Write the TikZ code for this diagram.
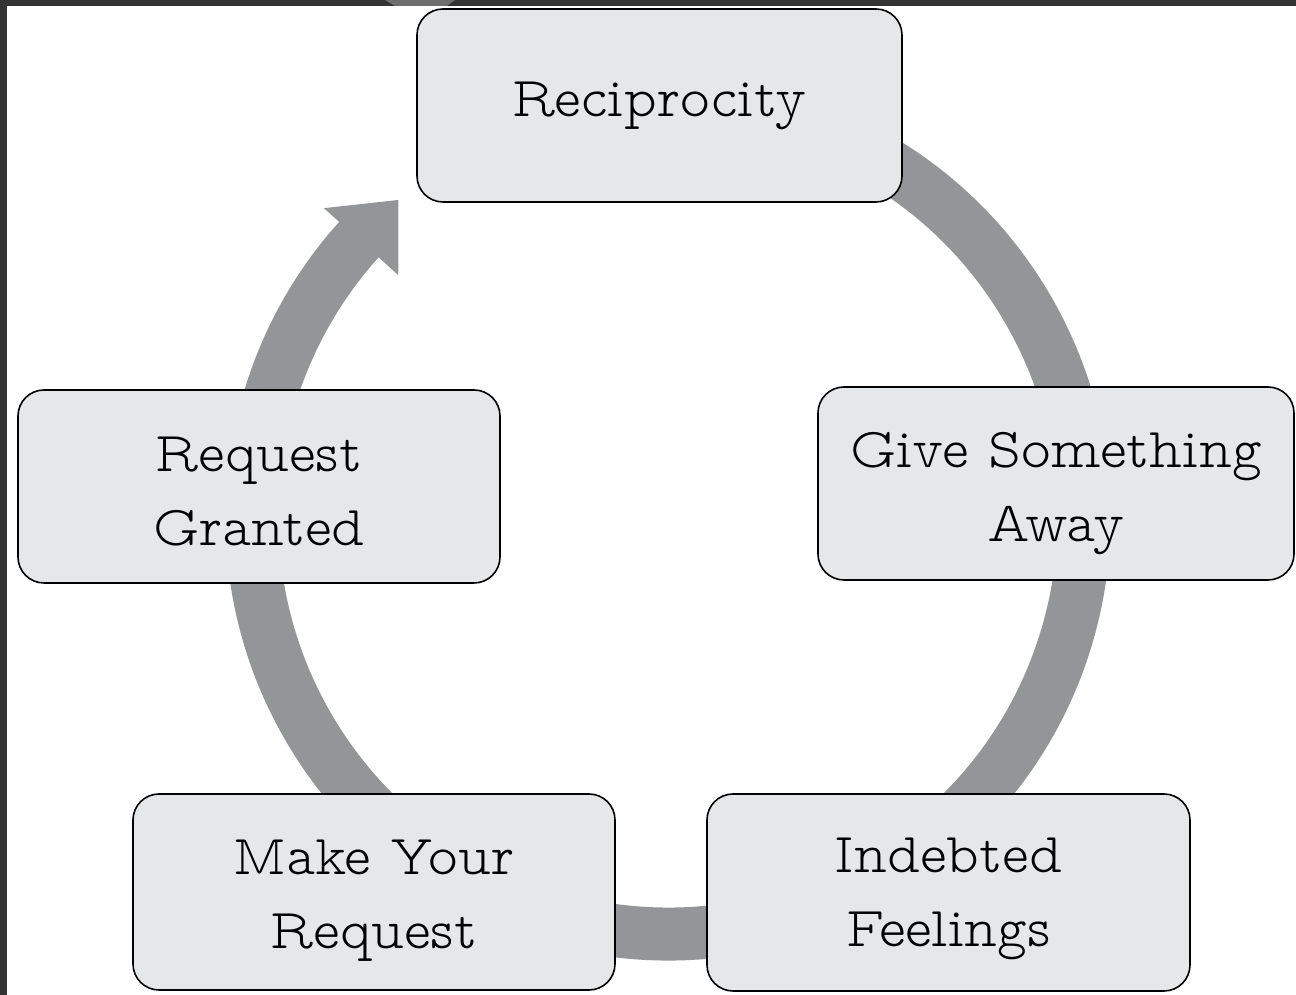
\documentclass[tikz,border=0pt]{standalone}
\usepackage{fontspec}
\usetikzlibrary{calc}
\newfontfamily\boxfont{lmmonoproplt10-regular.otf}
\definecolor{ringgray}{HTML}{939598}
\definecolor{boxgray}{HTML}{E6E7E8}
\definecolor{framedark}{HTML}{333333}
\definecolor{framestreak}{HTML}{6E6E6E}
\begin{document}
\begin{tikzpicture}[x=1pt,y=1pt,
  stagebox/.style={draw=black, line width=1.6pt, fill=boxgray, rounded corners=26pt,
    align=center, font=\boxfont\fontsize{56.5}{74}\selectfont, inner sep=0pt},
  ring/.style={draw=ringgray, line width=53pt}]
\useasboundingbox (0,0) rectangle (1296,995);
\fill[framedark] (0,0) rectangle (1296,995);
\fill[framestreak] (385,995) -- (455,995) -- (447,989) -- (395,989) -- cycle;
\fill[white] (7,0) rectangle (1296,989);
\coordinate (c) at (668,477);
% cycle ring (behind the boxes)
\draw[ring] ($(c)+(120:416)$) arc[start angle=120, end angle=-222.4, radius=416];
\fill[ringgray] ($(c)+(138:363)$) -- ($(c)+(138:463)$) -- ($(c)+(130.3:417)$) -- cycle;
% stages
\node[stagebox, minimum width=485pt, minimum height=193pt] (recip) at (659.5,889.5) {Reciprocity};
\node[stagebox, minimum width=476pt, minimum height=193pt, text height=127pt, text depth=10pt] (give) at (1056,511.5) {Give Something\\Away};
\node[stagebox, minimum width=483pt, minimum height=197pt, text height=119pt, text depth=10pt] (indebt) at (948.5,102.5) {Indebted\\Feelings};
\node[stagebox, minimum width=482pt, minimum height=196pt, text height=124pt, text depth=10pt] (make) at (374,103) {Make Your\\Request};
\node[stagebox, minimum width=482pt, minimum height=193pt, text height=129pt, text depth=10pt] (granted) at (259,508.5) {Request\\Granted};
\end{tikzpicture}
\end{document}
